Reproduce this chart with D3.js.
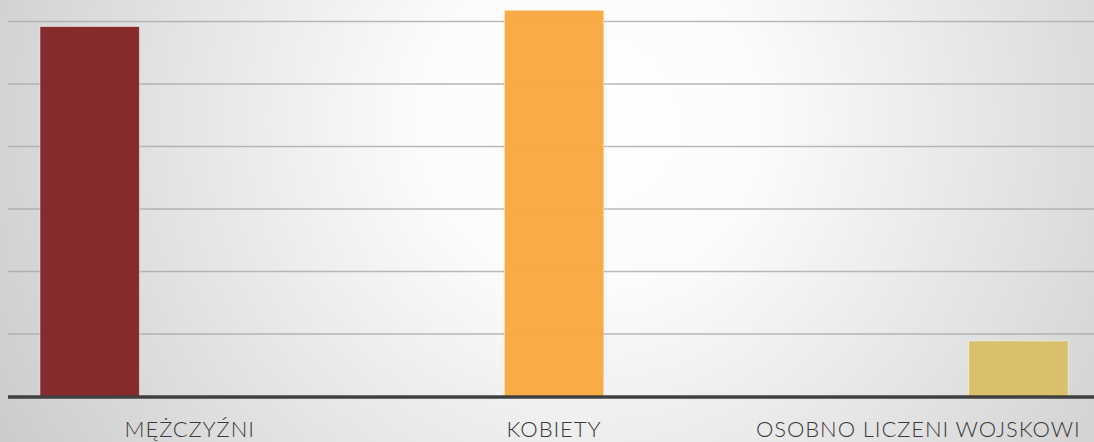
<!DOCTYPE html>
<html>
<head>
  <meta charset="utf-8">
  <title>Ludność</title>
  <style>
    html, body { margin: 0; padding: 0; }
    body { width: 1094px; height: 442px; overflow: hidden; }
    .label { font-family: "Lato", "Open Sans", sans-serif; font-weight: 300; fill: #3a3a3a; letter-spacing: 0.9px; }
  </style>
  <script src="https://d3js.org/d3.v7.min.js"></script>
</head>
<body>
  <script>
    // categories and values (one unit = one gridline step)
    var categories = ["MĘŻCZYŹNI", "KOBIETY", "OSOBNO LICZENI WOJSKOWI"];
    var values = [5.92, 6.18, 0.89];
    var colors = ["#832525", "#f7a941", "#d9bf68"];
    var gridTicks = [1, 2, 3, 4, 5, 6];

    var width = 1094;
    var height = 442;

    var svg = d3.select('body').append('svg')
      .attr('width', width)
      .attr('height', height);

    // background: soft radial gradient
    var grad = svg.append('defs').append('radialGradient')
      .attr('id', 'bg')
      .attr('gradientUnits', 'userSpaceOnUse')
      .attr('cx', 590).attr('cy', 120).attr('r', 700);
    grad.append('stop').attr('offset', '0%').attr('stop-color', '#ffffff');
    grad.append('stop').attr('offset', '25%').attr('stop-color', '#fbfbfb');
    grad.append('stop').attr('offset', '100%').attr('stop-color', '#c9c9c9');

    svg.append('rect')
      .attr('width', width)
      .attr('height', height)
      .attr('fill', 'url(#bg)');

    var y = d3.scaleLinear()
      .domain([0, 6])
      .range([396.5, 21.5]);

    // bars sit on a wider spacing than the category labels
    var xBar = d3.scalePoint()
      .domain(categories)
      .range([89.7, 1018.5]);

    var xLabel = d3.scalePoint()
      .domain(categories)
      .range([189.7, 918.3]);

    var barWidth = 99.5;

    // gridlines
    svg.append('g')
      .selectAll('line')
      .data(gridTicks)
      .enter()
      .append('line')
        .attr('x1', 8)
        .attr('x2', width)
        .attr('y1', d => y(d))
        .attr('y2', d => y(d))
        .attr('stroke', '#a8a8a8')
        .attr('stroke-opacity', 0.8)
        .attr('stroke-width', 1.5);

    // bars
    svg.append('g')
      .selectAll('rect')
      .data(values)
      .enter()
      .append('rect')
        .attr('x', (d, i) => xBar(categories[i]) - barWidth / 2)
        .attr('y', d => y(d))
        .attr('width', barWidth)
        .attr('height', d => y(0) - y(d))
        .attr('fill', (d, i) => colors[i])
        .attr('fill-opacity', 0.97)
        .attr('stroke', '#ffffff')
        .attr('stroke-opacity', 0.5)
        .attr('stroke-width', 1);

    // baseline
    svg.append('line')
      .attr('x1', 8)
      .attr('x2', width)
      .attr('y1', y(0) + 0.5)
      .attr('y2', y(0) + 0.5)
      .attr('stroke', '#404040')
      .attr('stroke-width', 3.5);

    // category labels
    svg.append('g')
      .selectAll('text')
      .data(categories)
      .enter()
      .append('text')
        .attr('class', 'label')
        .attr('x', d => xLabel(d))
        .attr('y', 436.7)
        .attr('text-anchor', 'middle')
        .style('font-size', '22px')
        .text(d => d);
  </script>
</body>
</html>
